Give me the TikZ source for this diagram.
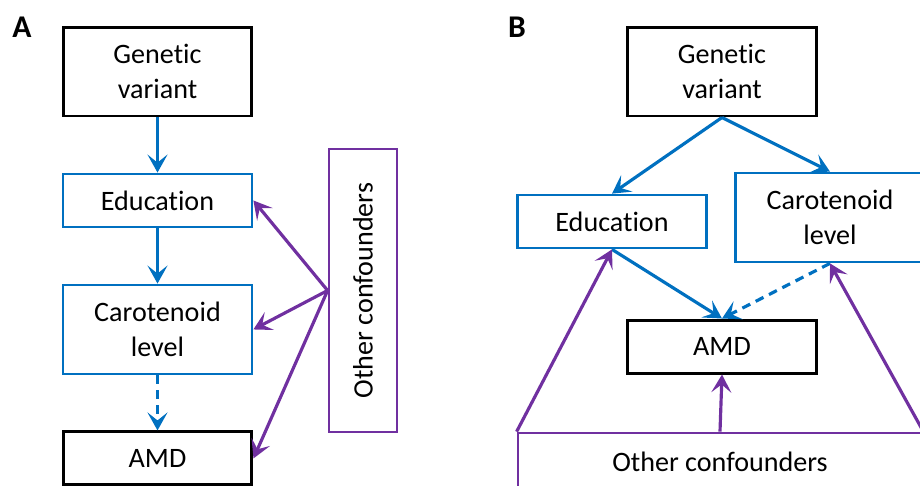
\documentclass[tikz,border=0pt]{standalone}
\usepackage{fontspec}
\setmainfont{Carlito}[Ligatures=NoCommon]
\usetikzlibrary{arrows.meta,positioning}
\definecolor{mblue}{RGB}{0,112,192}
\definecolor{mpurple}{RGB}{112,48,160}

\begin{document}
\begin{tikzpicture}[x=0.02cm, y=-0.02cm, node distance=2.58cm,
    every node/.style={font=\fontsize{16}{20}\selectfont, align=center},
    blackbox/.style={rectangle, draw=black, line width=1.7pt, minimum width=3.78cm},
    bluebox/.style={rectangle, draw=mblue, line width=1.6pt, minimum width=3.78cm},
    confbox/.style={rectangle, draw=mpurple, line width=1.6pt},
    tallbox/.style={minimum height=1.78cm},
    shortbox/.style={minimum height=1.06cm},
    bluearrow/.style={draw=mblue, line width=1.8pt, -{Stealth[length=3.6mm,width=4mm,inset=1.6mm]}},
    purplearrow/.style={draw=mpurple, line width=1.8pt, -{Stealth[length=3.6mm,width=4mm,inset=1.6mm]}},
    dashline/.style={dash pattern=on 5pt off 3.5pt},
    panel/.style={font=\fontsize{18}{20}\selectfont\bfseries}]
        \useasboundingbox (0,0) rectangle (920,485);
        \clip (0,0) rectangle (920,485);

        % Panel A nodes
        \node (labelA) [panel] at (22,27) {A};
        \node (genA) [blackbox, tallbox] at (157.5,71.5) {Genetic\\variant};
        \node (eduA) [bluebox, shortbox, below of=genA] {Education};
        \node (caroA) [bluebox, tallbox, below of=eduA] {Carotenoid\\level};
        \node (amdA) [blackbox, shortbox, below of=caroA] {AMD};
        \node (confA) [confbox, rotate=90, minimum width=5.66cm, minimum height=1.36cm] at (363,290.5) {Other confounders};
        \coordinate (hubA) at (confA.north);

        % Panel A arrows
        \draw[bluearrow] (genA) -- (eduA);
        \draw[bluearrow] (eduA) -- (caroA);
        \draw[bluearrow, dashline] (caroA) -- (amdA);
        \draw[purplearrow] (hubA) -- (eduA.east);
        \draw[purplearrow] (hubA) -- (caroA.east);
        \draw[purplearrow] (hubA) -- (amdA.east);

        % Panel B nodes
        \node (labelB) [panel] at (517,27) {B};
        \node (genB) [blackbox, tallbox] at (722,71.5) {Genetic\\variant};
        \node (eduB) [bluebox, shortbox] at (612,221.5) {Education};
        \node (caroB) [bluebox, tallbox] at (830,217.5) {Carotenoid\\level};
        \node (amdB) [blackbox, shortbox] at (722,346.5) {AMD};
        \node (confB) [confbox, minimum width=8.08cm, minimum height=1.14cm] at (720,461.5) {Other confounders};

        % Panel B arrows
        \draw[bluearrow] (genB.south) -- (eduB.north);
        \draw[bluearrow] (genB.south) -- (caroB.north);
        \draw[bluearrow] (eduB.south) -- (amdB.north);
        \draw[bluearrow, dashline] (caroB.south) -- (amdB.north);
        \draw[purplearrow] (confB.north west) -- (eduB.south);
        \draw[purplearrow] (confB.north) -- (amdB.south);
        \draw[purplearrow] (confB.north east) -- (caroB.south);
    \end{tikzpicture}
\end{document}
